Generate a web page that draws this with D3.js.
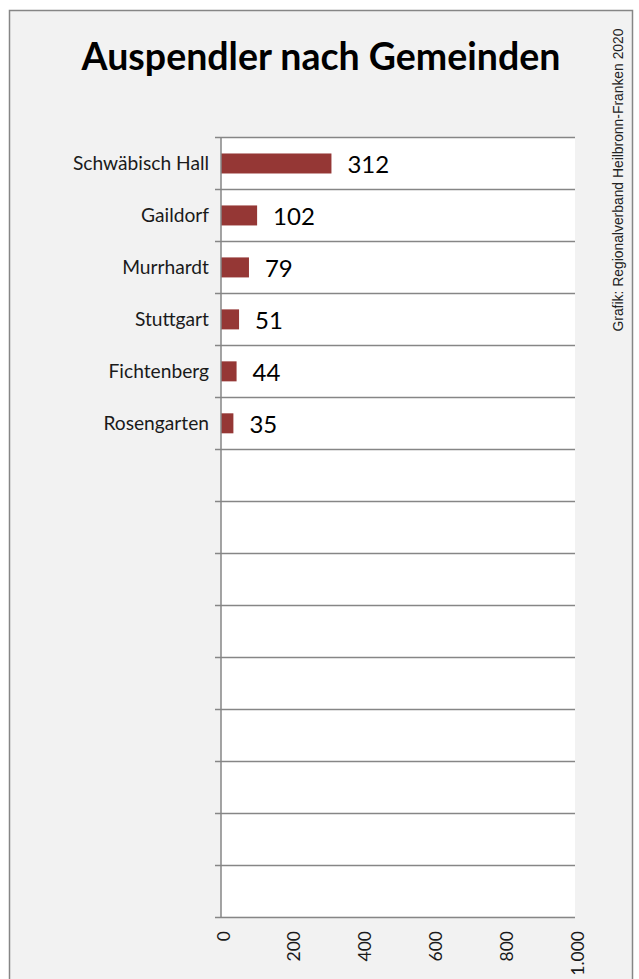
<!DOCTYPE html>
<html>
<head>
<meta charset="utf-8">
<script src="https://cdn.jsdelivr.net/npm/d3@7"></script>
<style>
  html, body { margin: 0; padding: 0; background: #fff; }
  svg { display: block; }
</style>
</head>
<body>
<svg id="chart" width="639" height="979"></svg>
<script>
// chart data
const categories = ['Schwäbisch Hall', 'Gaildorf', 'Murrhardt', 'Stuttgart', 'Fichtenberg', 'Rosengarten'];
const values = [312, 102, 79, 51, 44, 35];
const slotCount = 15; // the category axis has 15 rows, only 6 are filled
const xTicks = [0, 200, 400, 600, 800, 1000];
const xTickLabels = ['0', '200', '400', '600', '800', '1.000'];

const titleText = 'Auspendler nach Gemeinden';
const creditText = 'Grafik: Regionalverband Heilbronn-Franken 2020';

const svg = d3.select('#chart');
const font = 'Lato, "Open Sans", sans-serif';
const lineColor = '#868686';

// outer chart frame
svg.append('rect')
  .attr('x', 9.5)
  .attr('y', 10.5)
  .attr('width', 623)
  .attr('height', 1000)
  .attr('fill', '#f2f2f2')
  .attr('stroke', lineColor)
  .attr('stroke-width', 1.5);

// title
svg.append('text')
  .attr('x', 321)
  .attr('y', 69.5)
  .attr('text-anchor', 'middle')
  .attr('font-family', font)
  .attr('font-weight', 'bold')
  .attr('font-size', '37.5px')
  .attr('fill', '#000')
  .text(titleText);

// credit on the right side, vertical
svg.append('text')
  .attr('transform', 'translate(623, 180) rotate(-90)')
  .attr('text-anchor', 'middle')
  .attr('font-family', '"Liberation Sans Narrow", "Liberation Sans", Arial, sans-serif')
  .attr('font-size', '14px')
  .attr('fill', '#222')
  .attr('textLength', 303)
  .attr('lengthAdjust', 'spacingAndGlyphs')
  .text(creditText);

// scales
const plotLeft = 221, plotRight = 575, plotTop = 137, plotBottom = 916.5;
const x = d3.scaleLinear().domain([0, 1000]).range([plotLeft, plotRight]);
const y = d3.scaleBand().domain(d3.range(slotCount)).range([plotTop, plotBottom]).padding(0);
const step = y.step();

// plot area
svg.append('rect')
  .attr('x', plotLeft)
  .attr('y', plotTop)
  .attr('width', plotRight - plotLeft)
  .attr('height', plotBottom - plotTop)
  .attr('fill', '#fff');

// horizontal gridlines at row boundaries (with small tick stubs on the left)
const gridYs = d3.range(slotCount + 1).map(i => plotTop + i * step);
svg.append('g')
  .selectAll('line')
  .data(gridYs)
  .enter()
  .append('line')
  .attr('x1', plotLeft - 6)
  .attr('x2', plotRight)
  .attr('y1', d => Math.round(d) + 0.5)
  .attr('y2', d => Math.round(d) + 0.5)
  .attr('stroke', lineColor)
  .attr('stroke-width', 1.5);

// bars
const barH = step * 0.385;
svg.append('g')
  .selectAll('rect')
  .data(values)
  .enter()
  .append('rect')
  .attr('x', x(0))
  .attr('y', (d, i) => y(i) + (step - barH) / 2 + 0.5)
  .attr('width', d => x(d) - x(0))
  .attr('height', barH)
  .attr('fill', '#953735');

// vertical axis line
svg.append('line')
  .attr('x1', plotLeft)
  .attr('x2', plotLeft)
  .attr('y1', plotTop)
  .attr('y2', plotBottom + 0.5)
  .attr('stroke', lineColor)
  .attr('stroke-width', 1.5);

// category labels
svg.append('g')
  .selectAll('text')
  .data(categories)
  .enter()
  .append('text')
  .attr('x', 209)
  .attr('y', (d, i) => y(i) + step / 2 + 7.5)
  .attr('text-anchor', 'end')
  .attr('font-family', font)
  .attr('font-size', '19.2px')
  .attr('fill', '#1a1a1a')
  .text(d => d);

// value labels
svg.append('g')
  .selectAll('text')
  .data(values)
  .enter()
  .append('text')
  .attr('x', d => x(d) + 16)
  .attr('y', (d, i) => y(i) + step / 2 + 10.5)
  .attr('font-family', font)
  .attr('font-size', '24px')
  .attr('fill', '#000')
  .text(d => d);

// x tick labels, rotated
svg.append('g')
  .selectAll('text')
  .data(xTicks)
  .enter()
  .append('text')
  .attr('transform', d => `translate(${x(d) + 8.5}, 931) rotate(-90)`)
  .attr('text-anchor', 'end')
  .attr('font-family', font)
  .attr('font-size', '17.5px')
  .attr('fill', '#1a1a1a')
  .text((d, i) => xTickLabels[i]);
</script>
</body>
</html>
